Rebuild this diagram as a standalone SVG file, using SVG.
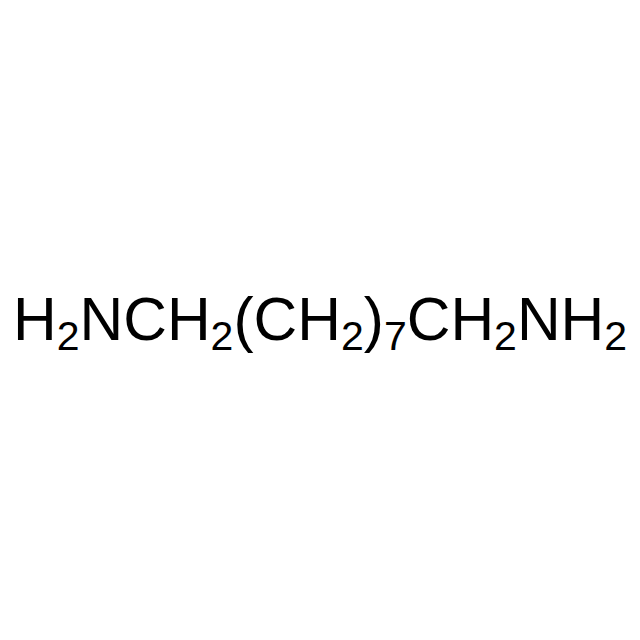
<svg xmlns="http://www.w3.org/2000/svg" width="640" height="640" viewBox="0 0 640 640">
<style>
.f{font-family:"Liberation Sans",Arial,sans-serif;font-size:60.5px;fill:#000}
.s{font-size:41px}
</style>
<rect width="640" height="640" fill="#fff"/>
<g id="formula">
<text class="f" x="13" y="340">H<tspan class="s" dy="10">2</tspan><tspan dy="-10">NCH</tspan><tspan class="s" dy="10">2</tspan><tspan dy="-10">(CH</tspan><tspan class="s" dy="10">2</tspan><tspan dy="-10">)</tspan><tspan class="s" dy="10">7</tspan><tspan dy="-10">CH</tspan><tspan class="s" dy="10">2</tspan><tspan dy="-10">NH</tspan><tspan class="s" dy="10">2</tspan></text>
</g>
</svg>
